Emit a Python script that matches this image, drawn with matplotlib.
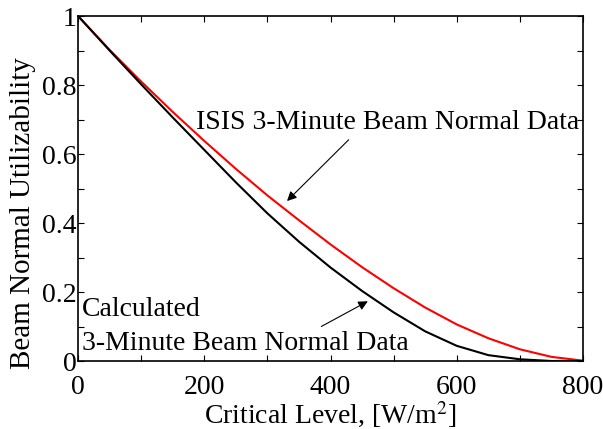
import matplotlib
matplotlib.use('Agg')
import matplotlib.pyplot as plt
from matplotlib.ticker import MultipleLocator, FuncFormatter

plt.rcParams['font.family'] = ['Liberation Serif', 'DejaVu Serif']
plt.rcParams['mathtext.fontset'] = 'stix'

# critical level, W/m^2
level = [0, 50, 100, 150, 200, 250, 300, 350, 400, 450, 500, 550, 600, 650, 700, 750, 800]
# utilizability
isis = [1.0, 0.902, 0.81, 0.722, 0.638, 0.557, 0.48, 0.408, 0.338, 0.272, 0.211, 0.155,
        0.106, 0.066, 0.034, 0.012, 0.001]
calc = [1.0, 0.9, 0.802, 0.706, 0.612, 0.518, 0.428, 0.346, 0.271, 0.203, 0.141, 0.086,
        0.044, 0.017, 0.005, 0.0, 0.0]

fig = plt.figure(figsize=(6.03, 4.29), dpi=100)
ax = fig.add_axes([0.1294, 0.1585, 0.8374, 0.8042])

ax.plot(level, isis, color='red', lw=1.5)
ax.plot(level, calc, color='black', lw=1.5)

ax.set_xlim(0, 800)
ax.set_ylim(0, 1)
ax.xaxis.set_major_locator(MultipleLocator(100))
ax.yaxis.set_major_locator(MultipleLocator(0.1))
ax.xaxis.set_major_formatter(FuncFormatter(lambda v, p: '%d' % round(v) if round(v) % 200 == 0 else ''))
ax.yaxis.set_major_formatter(FuncFormatter(
    lambda v, p: ('%g' % round(v, 1)) if round(v * 10) % 2 == 0 else ''))
ax.tick_params(direction='in', length=4, width=0.8, top=True, right=True,
               labelsize=20, pad=1)
ax.tick_params(axis='x', pad=10)
for s in ax.spines.values():
    s.set_linewidth(1.2)

ax.set_xlabel('Critical Level, [W/m$^2$]', fontsize=20, labelpad=0)
ax.set_ylabel('Beam Normal Utilizability', fontsize=21)
ax.yaxis.set_label_coords(-0.084, 0.43)

ax.annotate('ISIS 3-Minute Beam Normal Data', xy=(328, 0.458), xytext=(491, 0.655),
            fontsize=20, ha='center', va='bottom',
            arrowprops=dict(arrowstyle='-|>', color='black', lw=0.8, mutation_scale=14,
                            relpos=(0.41, 0.0)))
ax.text(6, 0.148, 'Calculated', fontsize=20, ha='left', va='center')
ax.annotate('3-Minute Beam Normal Data', xy=(463, 0.177), xytext=(6, 0.052),
            fontsize=20, ha='left', va='center',
            arrowprops=dict(arrowstyle='-|>', color='black', lw=0.8, mutation_scale=14,
                            relpos=(0.71, 1.0)))

fig.savefig('out.png', dpi=100)
